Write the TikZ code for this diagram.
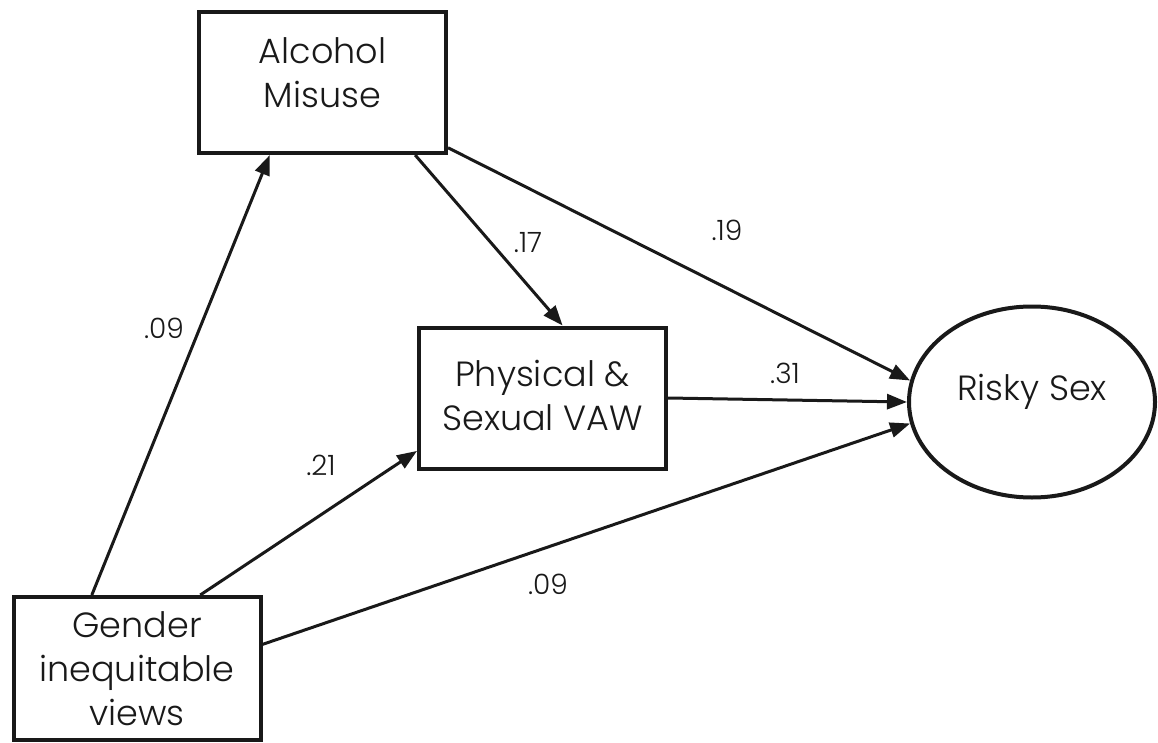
\documentclass[tikz,border=0pt]{standalone}
\usepackage{fontspec}
\setmainfont{Poppins Light}
\usetikzlibrary{arrows.meta,calc,shapes.geometric}
\begin{document}
\begin{tikzpicture}[x=1pt,y=-1pt,
  box/.style={draw=black!90,line width=4pt,minimum width=247pt,minimum height=141pt,inner sep=0pt},
  oval/.style={draw=black!90,ellipse,line width=4pt,minimum width=246pt,minimum height=191pt,inner sep=0pt},
  txt/.style={align=center,inner sep=0pt,font=\fontsize{35}{44}\selectfont,text=black!90},
  conn/.style={line width=3pt,draw=black!90,-{Triangle[length=20pt,width=15pt]}},
  lab/.style={font=\fontsize{28}{30}\selectfont,text=black!90,inner sep=0pt}]
\useasboundingbox (0,0) rectangle (1158,743);
\node[box] (am) at (322.5,82.5) {};
\node[txt] (amt) at ($(am.center)+(0,-10)$) {Alcohol\\Misuse};
\node[box] (vaw) at (542.5,398) {};
\node[txt] (vawt) at ($(vaw.center)+(0,-3)$) {Physical \&\\Sexual VAW};
\node[box,minimum height=143pt] (giv) at (137,668.5) {};
\node[txt] (givt) at ($(giv.center)+(0,0)$) {Gender\\inequitable\\views};
\node[oval] (rs) at (1032,402) {};
\node[txt] (rst) at ($(rs.center)+(0,-10)$) {Risky Sex};
\draw[conn] ($(giv.north west)!0.32!(giv.north east)$) -- ($(am.south west)!0.29!(am.south east)$);
\draw[conn] ($(giv.north west)!0.752!(giv.north east)$) -- ($(vaw.north west)!0.865!(vaw.south west)$);
\draw[conn] ($(giv.north east)!0.336!(giv.south east)$) -- (rs.190);
\draw[conn] ($(am.south west)!0.869!(am.south east)$) -- ($(vaw.north west)!0.58!(vaw.north east)$);
\draw[conn] ($(am.north east)!0.95!(am.south east)$) -- (rs.170);
\draw[conn] (vaw.east) -- (rs.west);
\node[lab] (l1) at (164,328) {.09};
\node[lab] (l2) at (321,465) {.21};
\node[lab] (l3) at (548,584) {.09};
\node[lab] (l4) at (528,243) {.17};
\node[lab] (l5) at (727,230) {.19};
\node[lab] (l6) at (785,373) {.31};
\end{tikzpicture}
\end{document}
